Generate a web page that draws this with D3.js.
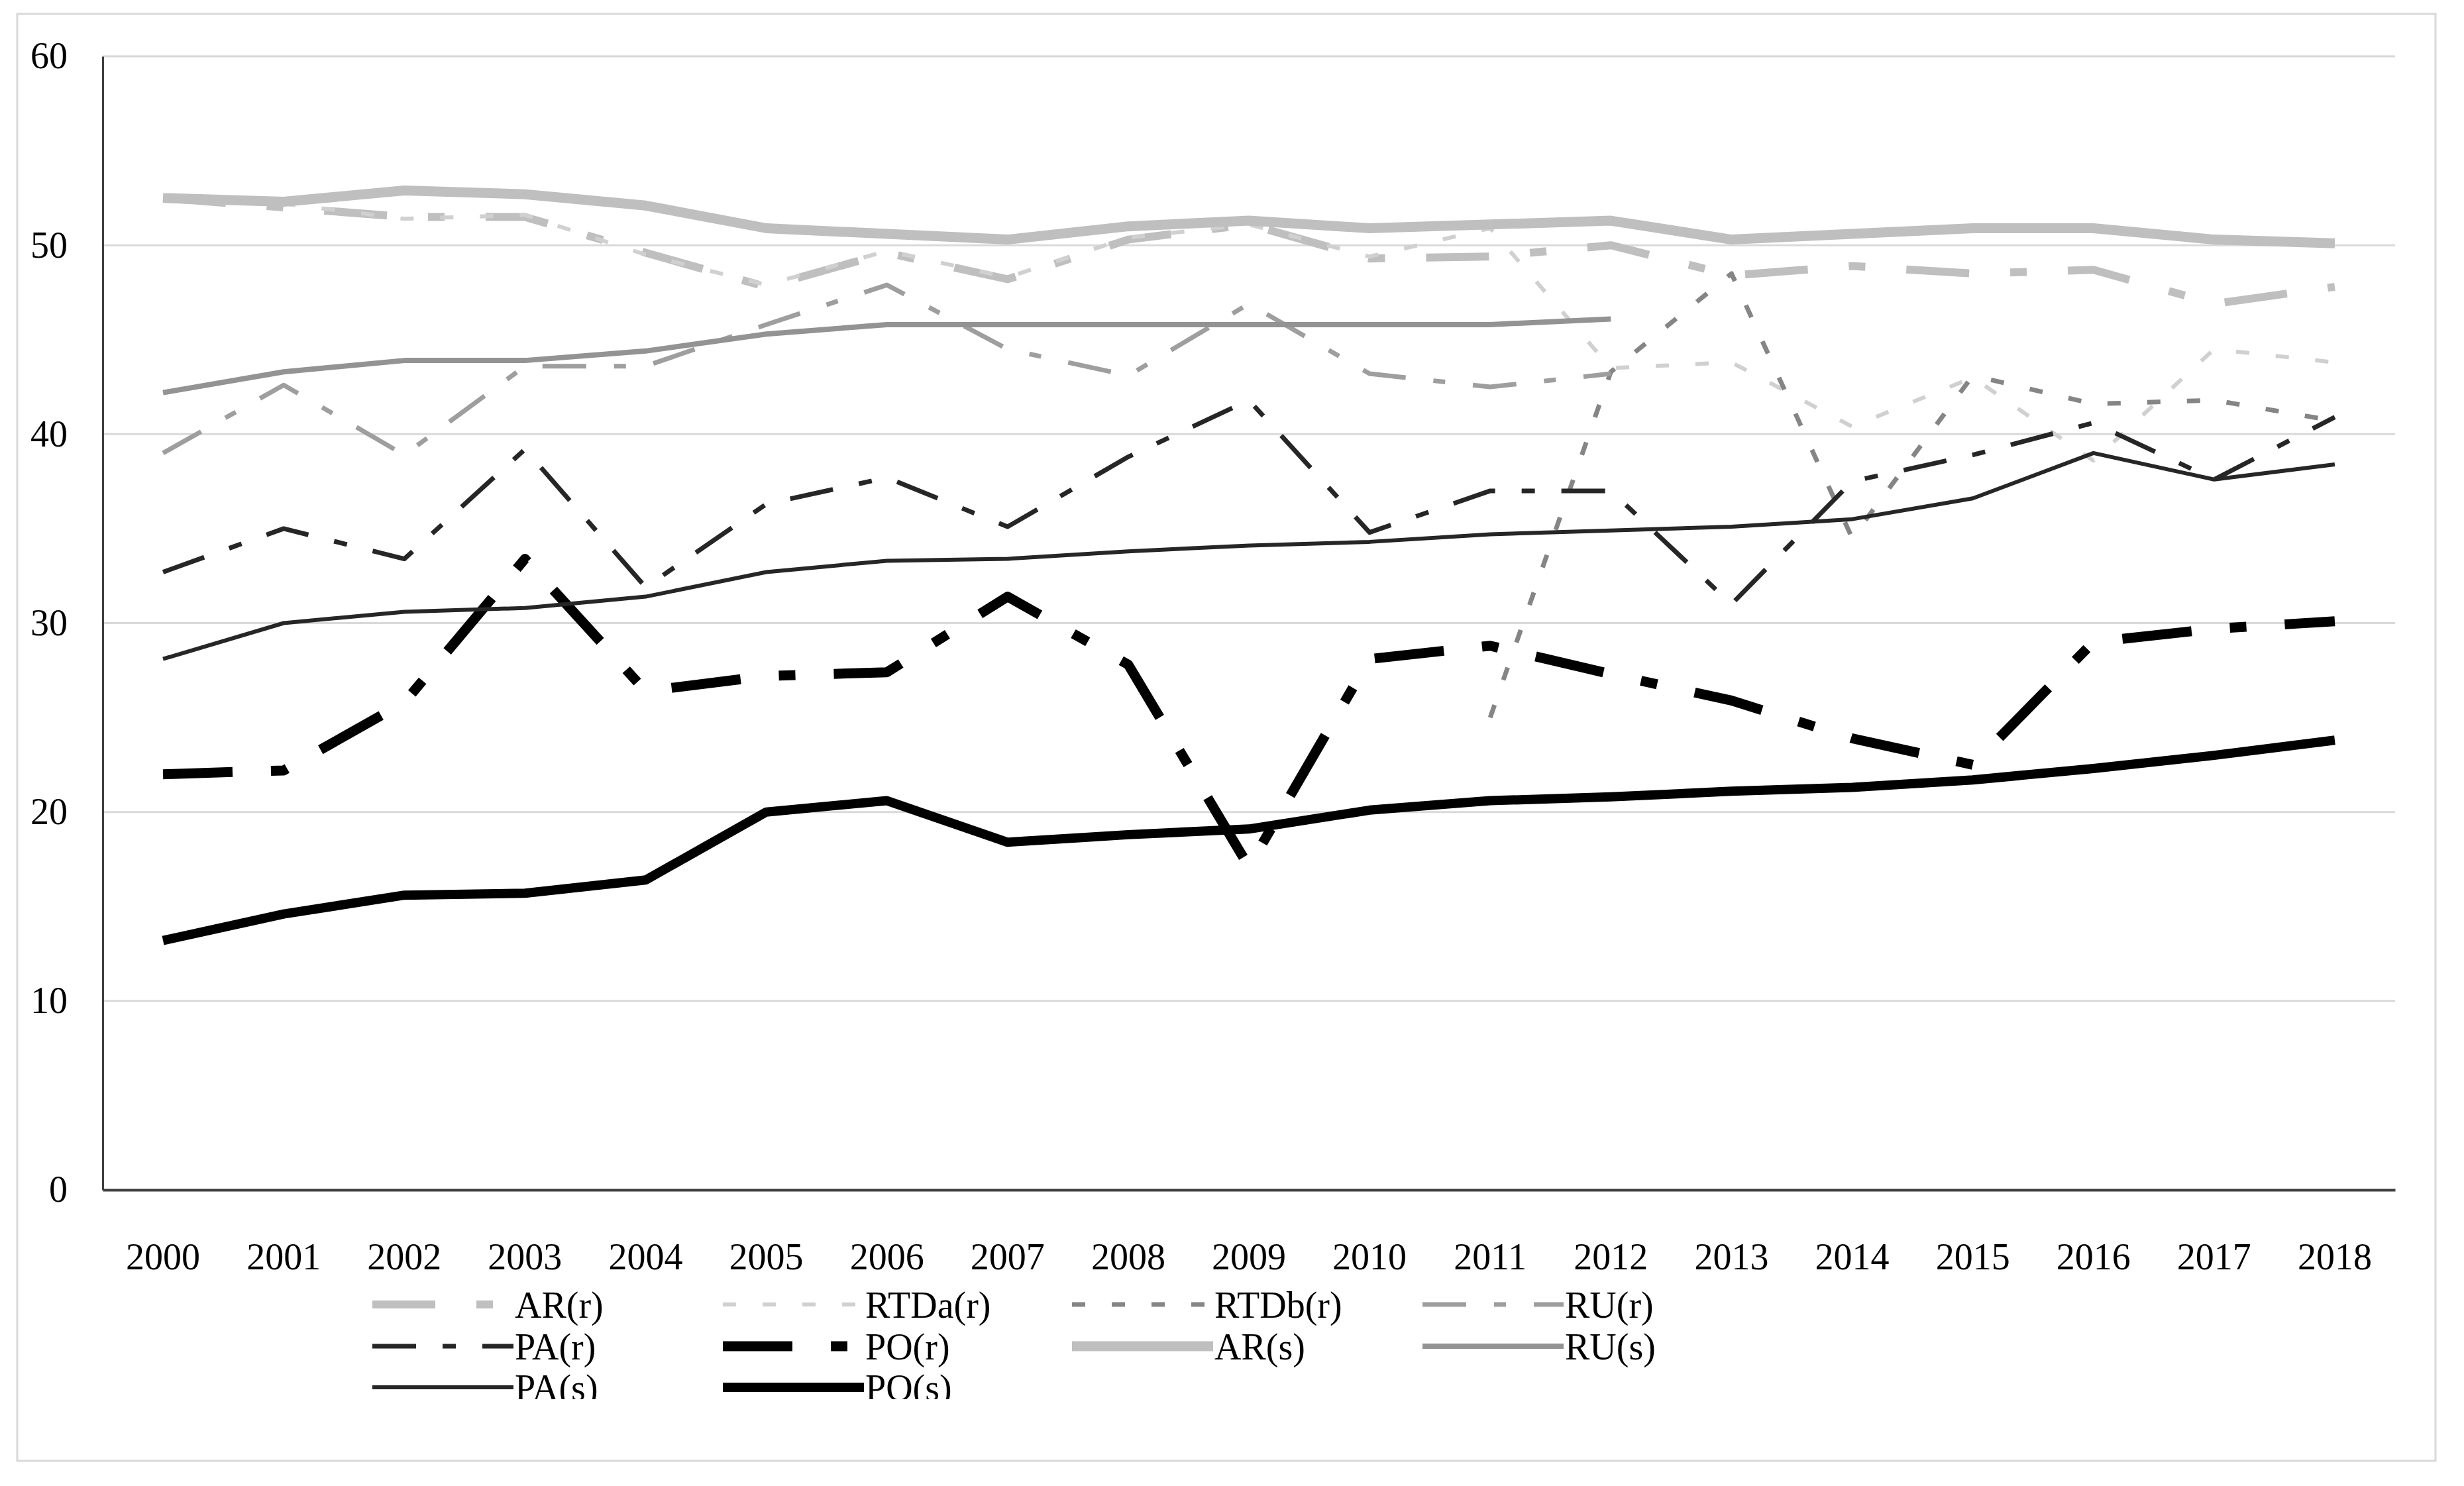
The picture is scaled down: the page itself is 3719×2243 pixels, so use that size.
<!DOCTYPE html>
<html>
<head>
<meta charset="utf-8">
<script src="https://cdn.jsdelivr.net/npm/d3@7"></script>
<style>
  body { margin: 0; background: #fff; }
  text { font-family: "Palatino Linotype", "Book Antiqua", "Liberation Serif", serif; fill: #000; }
</style>
</head>
<body>
<svg id="chart" width="3719" height="2243"></svg>
<script>
// data
const years = ["2000","2001","2002","2003","2004","2005","2006","2007","2008","2009",
               "2010","2011","2012","2013","2014","2015","2016","2017","2018"];
const yTicks = [0, 10, 20, 30, 40, 50, 60];

const arR   = [52.5, 52.0, 51.5, 51.5, 49.6, 47.8, 49.6, 48.2, 50.3, 51.1, 49.3, 49.4, 50.0, 48.4, 48.9, 48.5, 48.7, 46.9, 47.8];
const rtdaR = [52.5, 52.2, 51.4, 51.6, 49.5, 47.9, 49.7, 48.3, 50.4, 51.1, 49.4, 50.9, 43.5, 43.8, 40.4, 43.0, 38.6, 44.5, 43.8];
const rtdbR = [null, null, null, null, null, null, null, null, null, null, null, 25.0, 43.3, 48.5, 34.5, 43.1, 41.6, 41.8, 40.7];
const ruR   = [39.0, 42.6, 38.9, 43.6, 43.6, 45.8, 47.9, 44.5, 43.1, 46.9, 43.2, 42.5, 43.2, null, null, null, null, null, null];
const paR   = [32.7, 35.0, 33.4, 39.2, 31.9, 36.3, 37.7, 35.1, 38.8, 41.8, 34.8, 37.0, 37.0, 31.0, 37.5, 38.9, 40.6, 37.6, 40.9];
const poR   = [22.0, 22.2, 25.8, 33.4, 26.4, 27.2, 27.4, 31.4, 27.8, 17.1, 28.1, 28.8, 27.3, 25.9, 23.9, 22.5, 29.0, 29.7, 30.1];
const arS   = [52.5, 52.3, 52.9, 52.7, 52.1, 50.9, 50.6, 50.3, 51.0, 51.3, 50.9, 51.1, 51.3, 50.3, 50.6, 50.9, 50.9, 50.3, 50.1];
const ruS   = [42.2, 43.3, 43.9, 43.9, 44.4, 45.3, 45.8, 45.8, 45.8, 45.8, 45.8, 45.8, 46.1, null, null, null, null, null, null];
const paS   = [28.1, 30.0, 30.6, 30.8, 31.4, 32.7, 33.3, 33.4, 33.8, 34.1, 34.3, 34.7, 34.9, 35.1, 35.5, 36.6, 39.0, 37.6, 38.4];
const poS   = [13.2, 14.6, 15.6, 15.7, 16.4, 20.0, 20.6, 18.4, 18.8, 19.1, 20.1, 20.6, 20.8, 21.1, 21.3, 21.7, 22.3, 23.0, 23.8];

const series = [
    { name: "AR(r)",   values: arR,   color: "#bfbfbf", width: 12, dash: "95 62 25 62" },
    { name: "RTDa(r)", values: rtdaR, color: "#d0d0d0", width: 6,  dash: "20 40" },
    { name: "RTDb(r)", values: rtdbR, color: "#858585", width: 7,  dash: "20 40" },
    { name: "RU(r)",   values: ruR,   color: "#9e9e9e", width: 7,  dash: "66 42 18 42" },
    { name: "PA(r)",   values: paR,   color: "#262626", width: 7,  dash: "66 40 20 40" },
    { name: "PO(r)",   values: poR,   color: "#000000", width: 15, dash: "105 58 25 58" },
    { name: "AR(s)",   values: arS,   color: "#bfbfbf", width: 15, dash: null },
    { name: "RU(s)",   values: ruS,   color: "#939393", width: 8,  dash: null },
    { name: "PA(s)",   values: paS,   color: "#262626", width: 6,  dash: null },
    { name: "PO(s)",   values: poS,   color: "#000000", width: 14, dash: null }
];

const svg = d3.select("#chart");

// outer frame
svg.append("rect")
    .attr("x", 26).attr("y", 21)
    .attr("width", 3650).attr("height", 2184)
    .attr("fill", "#fff")
    .attr("stroke", "#d9d9d9")
    .attr("stroke-width", 3);

const plotLeft = 155, plotRight = 3615, plotTop = 85, plotBottom = 1796;

const x = d3.scaleBand().domain(years).range([plotLeft, plotRight]);
const xc = d => x(d) + x.bandwidth() / 2;
const y = d3.scaleLinear().domain([0, 60]).range([plotBottom, plotTop]);

// gridlines
svg.append("g")
    .selectAll("line")
    .data(yTicks.filter(t => t > 0))
    .enter().append("line")
    .attr("x1", plotLeft).attr("x2", plotRight)
    .attr("y1", d => y(d)).attr("y2", d => y(d))
    .attr("stroke", "#d9d9d9")
    .attr("stroke-width", 3);

// y axis
const yAxis = svg.append("g")
    .attr("transform", `translate(${plotLeft},0)`)
    .call(d3.axisLeft(y).tickValues(yTicks).tickSize(0).tickPadding(53).tickFormat(d3.format("d")));
yAxis.select(".domain").attr("stroke", "#404040").attr("stroke-width", 3);
yAxis.selectAll("text").attr("font-size", 56).attr("font-family", null);

// lines
const line = d3.line()
    .defined(d => d.v != null)
    .x(d => xc(d.year))
    .y(d => y(d.v));

svg.append("g")
    .selectAll("path")
    .data(series)
    .enter().append("path")
    .attr("d", s => line(s.values.map((v, i) => ({ year: years[i], v: v }))))
    .attr("fill", "none")
    .attr("stroke", s => s.color)
    .attr("stroke-width", s => s.width)
    .attr("stroke-dasharray", s => s.dash)
    .attr("stroke-linejoin", "round");

// x axis
const xAxis = svg.append("g")
    .attr("transform", `translate(0,${plotBottom})`)
    .call(d3.axisBottom(x).tickSize(0).tickPadding(80));
xAxis.select(".domain").attr("stroke", "#404040").attr("stroke-width", 4);
xAxis.selectAll("text").attr("font-size", 56).attr("font-family", null);

// legend (bottom row is cut off in the original)
svg.append("defs").append("clipPath")
    .attr("id", "legendClip")
    .append("rect")
    .attr("x", 0).attr("y", 1925)
    .attr("width", 3719).attr("height", 187);

const legend = svg.append("g").attr("clip-path", "url(#legendClip)");
const colX = [562, 1091, 1618, 2147];
const rowY = [1969, 2032, 2094];
const symLen = 213;

const item = legend.selectAll("g")
    .data(series)
    .enter().append("g")
    .attr("transform", (s, i) => `translate(${colX[i % 4]},${rowY[Math.floor(i / 4)]})`);

item.append("line")
    .attr("x1", 0).attr("x2", symLen)
    .attr("y1", 0).attr("y2", 0)
    .attr("stroke", s => s.color)
    .attr("stroke-width", s => s.width)
    .attr("stroke-dasharray", s => s.dash);

item.append("text")
    .attr("x", symLen + 2)
    .attr("dy", "0.35em")
    .attr("font-size", 56)
    .text(s => s.name);
</script>
</body>
</html>
